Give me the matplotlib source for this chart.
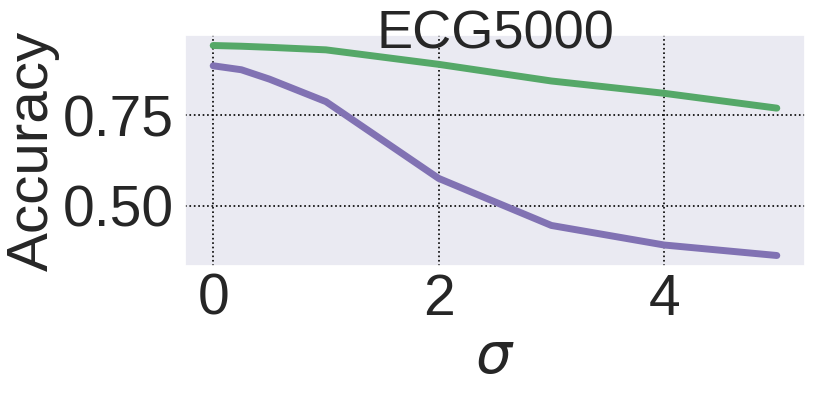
import matplotlib
matplotlib.use("Agg")
import matplotlib.pyplot as plt
import seaborn as sns

# noise level vs accuracy on ECG5000
sigma = [0, 0.25, 0.5, 1, 2, 3, 4, 5]
acc_green = [0.943, 0.941, 0.938, 0.931, 0.891, 0.845, 0.811, 0.770]
acc_purple = [0.887, 0.876, 0.850, 0.788, 0.576, 0.446, 0.392, 0.363]

sns.set_theme(style="darkgrid")
plt.rcParams['font.family'] = ['Liberation Sans', 'DejaVu Sans']
plt.rcParams['mathtext.fontset'] = 'dejavusans'

fig = plt.figure(figsize=(8.14, 3.93), dpi=100)
ax = fig.add_axes([185/814, 1 - 266/393, 620/814, 231/393])

pal = sns.color_palette("deep")
ax.plot(sigma, acc_green, color=pal[2], linewidth=5, solid_capstyle='round')
ax.plot(sigma, acc_purple, color=pal[4], linewidth=5, solid_capstyle='round')

ax.grid(color='black', linestyle=':', linewidth=1.2)
ax.set_xticks([0, 2, 4])
ax.set_yticks([0.50, 0.75])
ax.set_yticklabels(['0.50', '0.75'])
ax.tick_params(axis='both', labelsize=41, length=0)
ax.tick_params(axis='x', pad=5)
ax.tick_params(axis='y', pad=8)

ax.set_xlabel(r'$\sigma$', fontsize=41, labelpad=3)
ax.set_ylabel('Accuracy', fontsize=42, labelpad=2)
ax.set_title('ECG5000', fontsize=39, y=0.942, pad=0)

fig.savefig("out.png", dpi=100)
